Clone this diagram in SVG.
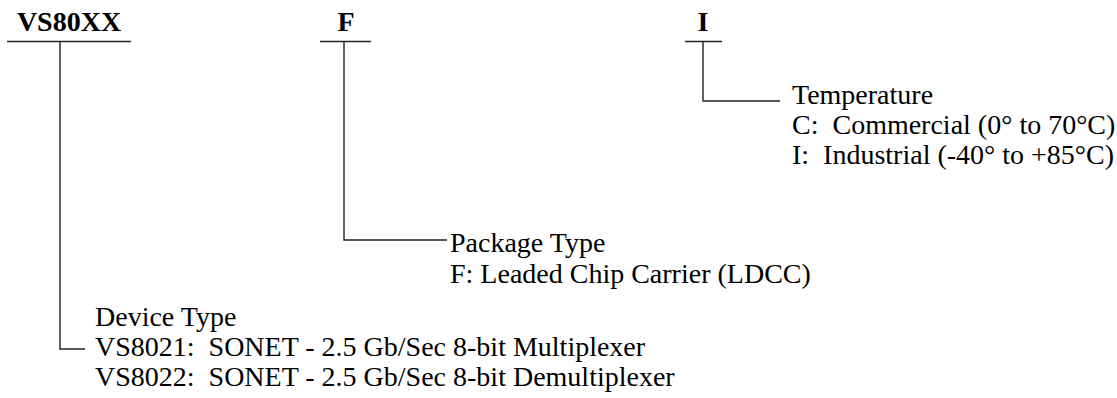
<svg xmlns="http://www.w3.org/2000/svg" width="1117" height="398" viewBox="0 0 1117 398">
<style>
.t{font-family:"Liberation Serif","Times New Roman",serif;font-size:28px;fill:#000}
.b{font-family:"Liberation Serif","Times New Roman",serif;font-size:28px;font-weight:bold;fill:#000}
.ln{stroke:#222;stroke-width:1.4;fill:none}
</style>
<rect width="1117" height="398" fill="#fff"/>
<g id="field-device">
<text class="b" x="69" y="31" text-anchor="middle">VS80XX</text>
<text class="t" x="95" y="326">Device Type</text>
<text class="t" x="95" y="356" xml:space="preserve">VS8021:  SONET - 2.5 Gb/Sec 8-bit Multiplexer</text>
<text class="t" x="95" y="386" xml:space="preserve">VS8022:  SONET - 2.5 Gb/Sec 8-bit Demultiplexer</text>
</g>
<g id="field-package">
<text class="b" x="346" y="31" text-anchor="middle">F</text>
<text class="t" x="450" y="252">Package Type</text>
<text class="t" x="450" y="283">F: Leaded Chip Carrier (LDCC)</text>
</g>
<g id="field-temp">
<text class="b" x="703" y="31" text-anchor="middle">I</text>
<text class="t" x="792" y="104">Temperature</text>
<text class="t" x="792" y="134" xml:space="preserve">C:  Commercial (0° to 70°C)</text>
<text class="t" x="792" y="164" xml:space="preserve">I:  Industrial (-40° to +85°C)</text>
</g>
<g id="connectors">
<path class="ln" d="M7 41.5H131M60 41.5V349H85"/>
<path class="ln" d="M320 41.5H371M344 41.5V240H447"/>
<path class="ln" d="M685 41.5H722M703 41.5V101H780"/>
</g>
</svg>
